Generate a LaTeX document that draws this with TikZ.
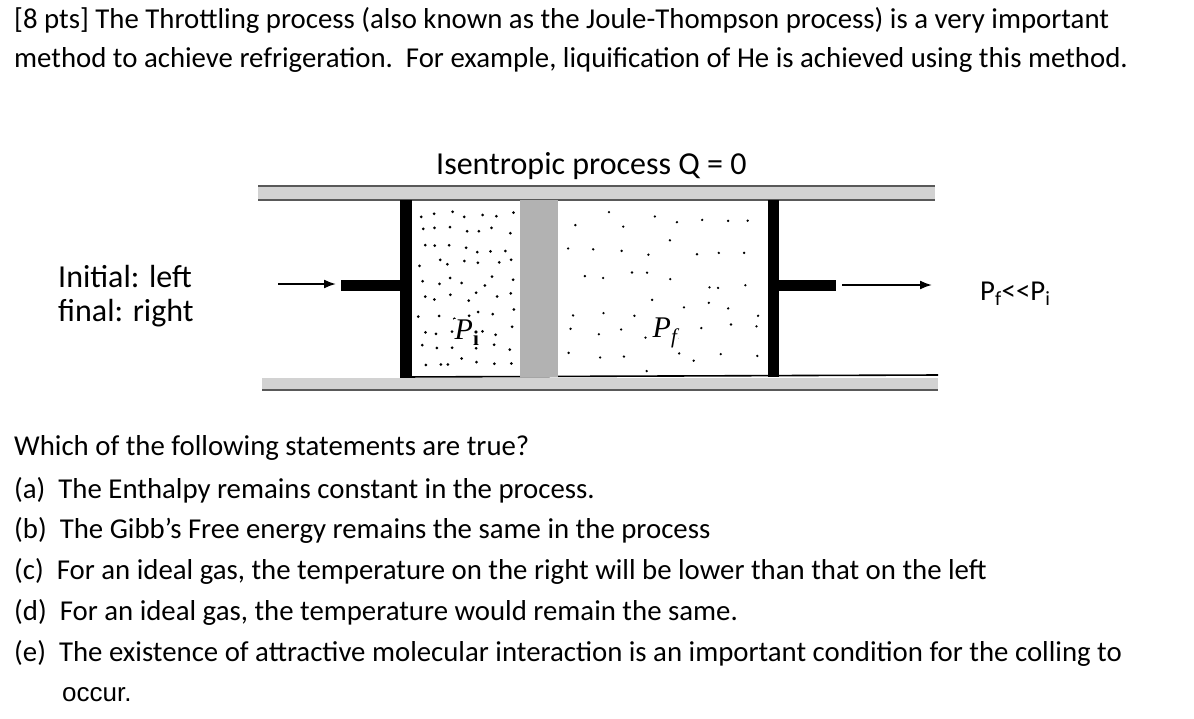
\documentclass[tikz,border=0pt]{standalone}
\usepackage{fontspec}
\usetikzlibrary{arrows.meta}
\setmainfont{Carlito}
\begin{document}
\begin{tikzpicture}[x=1pt,y=-1pt,
  txt/.style={anchor=west,inner sep=0pt,font=\fontsize{28.8}{32}\selectfont},
  big/.style={anchor=west,inner sep=0pt,font=\fontsize{32}{36}\selectfont},
  piston/.style={fill=black},
  arr/.style={-{Latex[length=12pt,width=9pt]},line width=1.8pt}]
\useasboundingbox[fill=white] (0,0) rectangle (1194,718);
\node[txt] (t1) at (14,20) {[8 pts] The Throttling process (also known as the Joule-Thompson process) is a very important};
\node[txt] (t2) at (14,60) {method to achieve refrigeration.\ \ For example, liquification of He is achieved using this method.};
\node[big] (title) at (436,166) {Isentropic process Q = 0};
% pipes
\fill[gray!35] (258,186) rectangle (935,200);
\draw[line width=1.2pt,gray!70!black] (258,186) -- (935,186) (258,200) -- (935,200);
\fill[gray!35] (262,378) rectangle (938,389);
\draw[line width=1.6pt] (400,377) -- (938,375);
\draw[line width=1.2pt,gray!70!black] (262,390) -- (938,390);
% plug
\fill[gray!60] (520,200) rectangle (558,377);
% pistons
\fill[piston] (400,200) rectangle (412,377);
\fill[piston] (341,280) rectangle (400,291);
\fill[piston] (768,200) rectangle (779,377);
\fill[piston] (779,280) rectangle (836,291);
\coordinate (a1) at (278,284); \coordinate (a2) at (336,284);
\draw[arr] (a1) -- (a2);
\coordinate (b1) at (842,285); \coordinate (b2) at (932,285);
\draw[arr] (b1) -- (b2);
% dots
\pgfmathsetseed{11}
\foreach \r in {0,...,9}{\foreach \c in {0,...,6}{
  \fill (418+\c*14.5+rnd*9,210+\r*16.5+rnd*10) circle (1.5pt);}}
\foreach \r in {0,...,5}{\foreach \c in {0,...,7}{
  \fill (568+\c*25+rnd*18,212+\r*28+rnd*20) circle (1.3pt);}}
\node[fill=white,inner sep=1pt] (pi) at (467,333) {\fontspec{Liberation Serif}\fontsize{30}{32}\selectfont\textit{P}\textsubscript{\textbf{i}}};
\node[fill=white,inner sep=1pt] (pf) at (665,333) {\fontspec{Liberation Serif}\fontsize{30}{32}\selectfont\textit{P\textsubscript{f}}};
\node[big] (l1) at (58,277) {Initial: left};
\node[big] (l2) at (58,313) {final: right};
\node[txt] (pp) at (980,294) {P\textsubscript{f}{<}{<}P\textsubscript{i}};
\node[txt] (q) at (14,448) {Which of the following statements are true?};
\node[txt] (a) at (14,490) {(a)\ \ The Enthalpy remains constant in the process.};
\node[txt] (b) at (14,530) {(b)\ \ The Gibb’s Free energy remains the same in the process};
\node[txt] (c) at (14,571) {(c)\ \ For an ideal gas, the temperature on the right will be lower than that on the left};
\node[txt] (d) at (14,612) {(d)\ \ For an ideal gas, the temperature would remain the same.};
\node[txt] (e) at (14,653) {(e)\ \ The existence of attractive molecular interaction is an important condition for the colling to};
\node[anchor=west,inner sep=0pt] (e2) at (62,695) {\fontspec{Liberation Sans}\fontsize{26}{28}\selectfont occur.};
\end{tikzpicture}
\end{document}
